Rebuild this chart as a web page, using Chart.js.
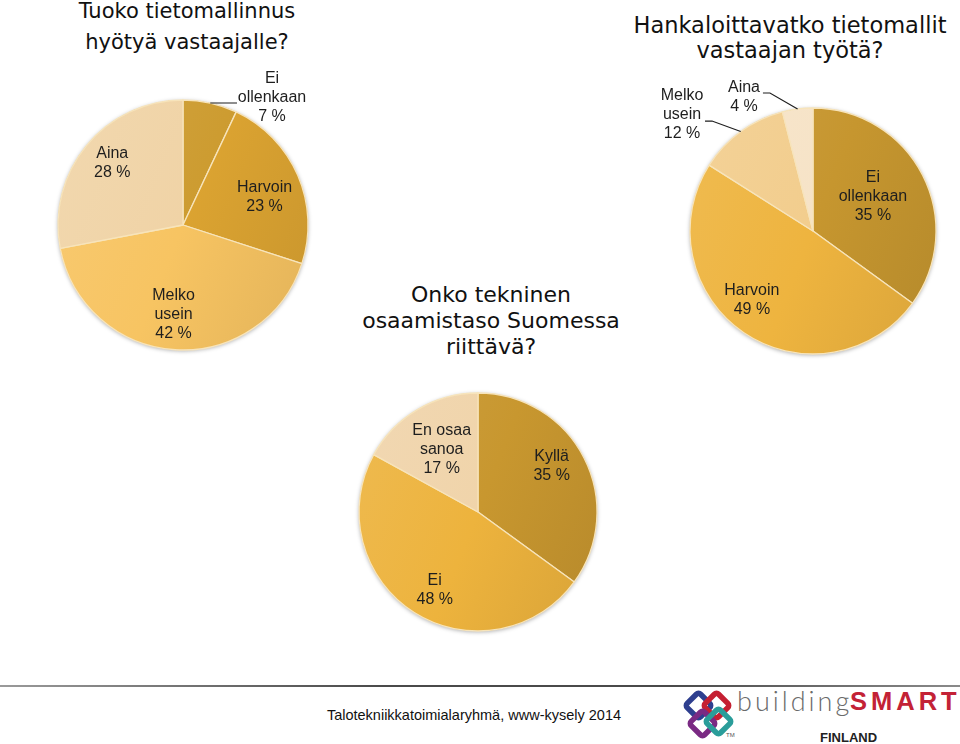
<!DOCTYPE html>
<html lang="fi">
<head>
<meta charset="utf-8">
<title>Tietomallikysely 2014</title>
<script src="https://cdn.jsdelivr.net/npm/chart.js@4.4.1/dist/chart.umd.min.js"></script>
<style>
  html, body { margin: 0; padding: 0; width: 960px; height: 744px; overflow: hidden; background: #fff; }
  canvas { position: absolute; }
  .otsikko {
    position: absolute;
    text-align: center;
    font-family: "DejaVu Sans", Verdana, sans-serif;
    color: #111;
    white-space: nowrap;
  }
  #viiva {
    position: absolute; left: 0; top: 685px; width: 960px; height: 2px;
    background: linear-gradient(to right, #9a9a9a, #4a4a4a 40%, #4a4a4a 70%, #8a8a8a);
  }
  #lahde {
    position: absolute; left: 300px; top: 707px; width: 348px; text-align: center;
    font: 14.5px "Liberation Sans", Arial, sans-serif; color: #111;
  }
  #logo { position: absolute; left: 680px; top: 688px; width: 280px; height: 56px; }
  #logo svg { position: absolute; left: 0; top: 0; }
  #building {
    position: absolute; left: 57px; top: -4px;
    font: 300 27px Lato, "Open Sans", sans-serif; letter-spacing: 3px; color: #6a6a6a;
  }
  #smart {
    position: absolute; left: 170px; top: -1px;
    font: bold 25.5px "Liberation Sans", Arial, sans-serif; letter-spacing: 4px; color: #c32236;
  }
  #finland {
    position: absolute; left: 140px; top: 42px;
    font: bold 13px "Liberation Sans", Arial, sans-serif; color: #222;
  }
  #tm { position: absolute; left: 46px; top: 44px; font: 6px Arial, sans-serif; color: #555; }
</style>
</head>
<body>

<div class="otsikko" style="left:37px; top:-4px; width:300px; font-size:21px; line-height:31px;">Tuoko tietomallinnus<br>hyötyä vastaajalle?</div>
<div class="otsikko" style="left:620px; top:13px; width:340px; font-size:22.5px; line-height:25px;">Hankaloittavatko tietomallit<br>vastaajan työtä?</div>
<div class="otsikko" style="left:341px; top:282px; width:300px; font-size:22px; line-height:26px;">Onko tekninen<br>osaamistaso Suomessa<br>riittävä?</div>

<canvas id="piirakka1" width="300" height="320" style="left:33px; top:65px;"></canvas>
<canvas id="piirakka2" width="320" height="320" style="left:653px; top:71px;"></canvas>
<canvas id="piirakka3" width="280" height="280" style="left:338px; top:372px;"></canvas>

<div id="viiva"></div>
<div id="lahde">Talotekniikkatoimialaryhmä, www-kysely 2014</div>

<div id="logo">
  <svg width="60" height="56" viewBox="0 0 60 56">
    <g fill="none" stroke-width="5.5" stroke-linejoin="round">
      <rect x="9" y="8" width="19" height="19" rx="3" transform="rotate(45 18.5 17.5)" stroke="#2e3f8f"/>
      <rect x="27" y="8" width="19" height="19" rx="3" transform="rotate(45 36.5 17.5)" stroke="#c52032"/>
      <rect x="13" y="26" width="19" height="19" rx="3" transform="rotate(45 22.5 35.5)" stroke="#7a2a83"/>
      <rect x="29" y="24" width="19" height="19" rx="3" transform="rotate(45 38.5 33.5)" stroke="#2a9d9a"/>
    </g>
  </svg>
  <span id="tm">TM</span>
  <span id="building">building</span>
  <span id="smart">SMART</span>
  <span id="finland">FINLAND</span>
</div>

<script>
// =====================================================
// DATA
// =====================================================
const hyotyLuokat = [["Ei", "ollenkaan"], "Harvoin", ["Melko", "usein"], "Aina"];
const hyotyOsuudet = [7, 23, 42, 28];

const hankaluusLuokat = [["Ei", "ollenkaan"], "Harvoin", ["Melko", "usein"], "Aina"];
const hankaluusOsuudet = [35, 49, 12, 4];

const osaaminenLuokat = ["Kyllä", "Ei", ["En osaa", "sanoa"]];
const osaaminenOsuudet = [35, 48, 17];

// värit (järjestys sama kuin luokilla)
const hyotyVarit = ["#cd9c31", "#dba331", "#f7c462", "#f0d3a6"];
const hankaluusVarit = ["#c6962f", "#eeb43f", "#f2cd8d", "#f6e3c7"];
const osaaminenVarit = ["#c8972f", "#edb33d", "#f0d4aa"];

// =====================================================
// VÄRILIUKU (valo vasemmalta, varjo oikealle alas)
// =====================================================
function savy(hex, k) {
  const n = parseInt(hex.slice(1), 16);
  const c = [(n >> 16) & 255, (n >> 8) & 255, n & 255].map(v =>
    Math.round(k > 0 ? v + (255 - v) * k : v * (1 + k))
  );
  return `rgb(${c[0]},${c[1]},${c[2]})`;
}

function liukuVarit(varit) {
  return (c) => {
    const perus = varit[c.dataIndex];
    const arc = c.chart.getDatasetMeta(0).data[c.dataIndex];
    if (!arc || !arc.outerRadius) return perus;
    const { x, y, outerRadius: r } = arc;
    const g = c.chart.ctx.createLinearGradient(x - r, y - r * 0.4, x + r, y + r * 0.4);
    g.addColorStop(0, savy(perus, 0.08));
    g.addColorStop(0.5, perus);
    g.addColorStop(1, savy(perus, -0.07));
    return g;
  };
}

// =====================================================
// VIIPALEIDEN TEKSTIT + OHJAUSVIIVAT
// =====================================================
const viipaleTekstit = {
  id: "viipaleTekstit",
  afterDatasetsDraw(chart, args, opts) {
    const ctx = chart.ctx;
    const meta = chart.getDatasetMeta(0);
    const arvot = chart.data.datasets[0].data;

    ctx.save();
    ctx.font = "16px 'Liberation Sans', Arial, sans-serif";
    ctx.fillStyle = "#1e1e1e";
    ctx.strokeStyle = "#1e1e1e";
    ctx.lineWidth = 1.2;
    ctx.textAlign = "center";
    ctx.textBaseline = "middle";

    meta.data.forEach((arc, i) => {
      const p = opts.sijainnit[i];
      const { x, y, startAngle, endAngle, outerRadius: r } =
        arc.getProps(["x", "y", "startAngle", "endAngle", "outerRadius"], true);
      const keski = (startAngle + endAngle) / 2;
      let tx, ty;

      if (p.ulko) {
        tx = x + p.ulko[0] * r;
        ty = y + p.ulko[1] * r;
        ctx.beginPath();
        ctx.moveTo(x + Math.cos(keski) * r, y + Math.sin(keski) * r);
        p.viiva.forEach(([vx, vy]) => ctx.lineTo(x + vx * r, y + vy * r));
        ctx.stroke();
      } else {
        const a = keski + p.kulma * Math.PI / 180;
        tx = x + Math.cos(a) * r * p.etaisyys;
        ty = y + Math.sin(a) * r * p.etaisyys;
      }

      const rivit = [].concat(chart.data.labels[i], arvot[i] + " %");
      rivit.forEach((t, k) => {
        ctx.fillText(t, tx, ty + (k - (rivit.length - 1) / 2) * 19);
      });
    });
    ctx.restore();
  }
};

// pieni varjo piirakan reunaan
const reunaVarjo = {
  id: "reunaVarjo",
  beforeDatasetsDraw(chart) {
    const arc = chart.getDatasetMeta(0).data[0];
    if (!arc) return;
    const { x, y, outerRadius: r } = arc.getProps(["x", "y", "outerRadius"], true);
    const ctx = chart.ctx;
    ctx.save();
    ctx.shadowColor = "rgba(0,0,0,0.35)";
    ctx.shadowBlur = 4;
    ctx.shadowOffsetY = 1;
    ctx.beginPath();
    ctx.arc(x, y, r, 0, Math.PI * 2);
    ctx.fillStyle = "#c9a860";
    ctx.fill();
    ctx.restore();
  }
};

// =====================================================
// PIIRAKKA
// =====================================================
function piirraPiirakka(id, luokat, osuudet, varit, sade, sijainnit) {
  return new Chart(document.getElementById(id), {
    type: "pie",
    data: {
      labels: luokat,
      datasets: [{
        data: osuudet,
        backgroundColor: liukuVarit(varit),
        borderColor: "#f7e4bb",
        borderWidth: 1.3
      }]
    },
    options: {
      responsive: false,
      animation: false,
      radius: sade,
      layout: { padding: 0 },
      events: [],
      plugins: {
        legend: { display: false },
        tooltip: { enabled: false },
        viipaleTekstit: { sijainnit }
      }
    },
    plugins: [reunaVarjo, viipaleTekstit]
  });
}

document.addEventListener("DOMContentLoaded", () => {
  const k1 = piirraPiirakka("piirakka1", hyotyLuokat, hyotyOsuudet, hyotyVarit, 125, [
    { ulko: [0.712, -1.016], viiva: [[0.432, -0.976]] },
    { etaisyys: 0.69, kulma: 4.4 },
    { etaisyys: 0.72, kulma: 2.4 },
    { etaisyys: 0.75, kulma: 1.4 }
  ]);

  const k2 = piirraPiirakka("piirakka2", hankaluusLuokat, hankaluusOsuudet, hankaluusVarit, 123, [
    { etaisyys: 0.56, kulma: -2.5 },
    { etaisyys: 0.75, kulma: 7.3 },
    { ulko: [-1.065, -0.943], viiva: [[-0.821, -0.894], [-0.878, -0.894]] },
    { ulko: [-0.561, -1.089], viiva: [[-0.35, -1.122], [-0.407, -1.122]] }
  ]);

  const k3 = piirraPiirakka("piirakka3", osaaminenLuokat, osaaminenOsuudet, osaaminenVarit, 119, [
    { etaisyys: 0.73, kulma: -5 },
    { etaisyys: 0.75, kulma: -3.4 },
    { etaisyys: 0.61, kulma: 0.6 }
  ]);

  // piirretään uudelleen, jotta liu'ut saavat viipaleiden mitat
  [k1, k2, k3].forEach(k => k.update("none"));
});
</script>
</body>
</html>
